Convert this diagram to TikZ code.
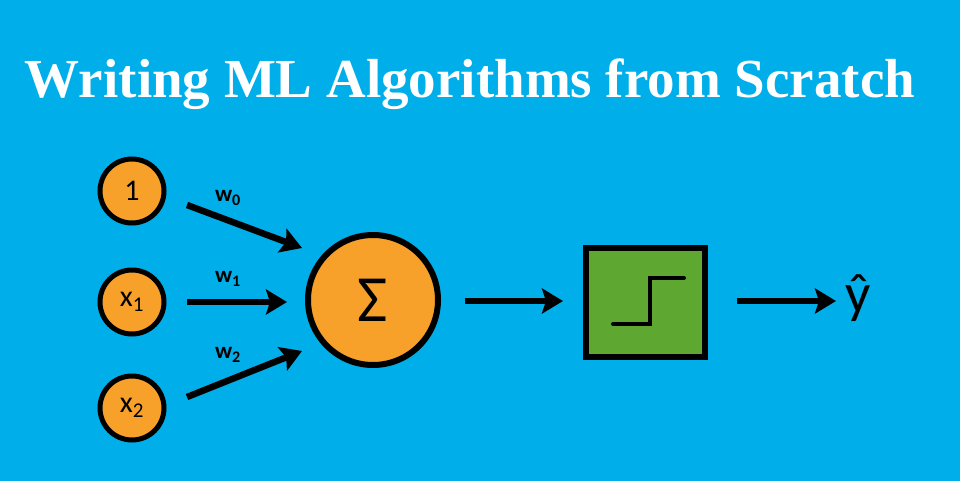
\documentclass[tikz,border=0pt]{standalone}
\usepackage{fontspec}
\setmainfont{Liberation Serif}
\newfontfamily\calib{Carlito}
\usetikzlibrary{arrows.meta}
\definecolor{bgblue}{RGB}{0,174,234}
\definecolor{nodeorange}{RGB}{247,161,43}
\definecolor{boxgreen}{RGB}{94,168,50}
\begin{document}
\begin{tikzpicture}[x=1pt,y=-1pt,
  inp/.style={circle,draw=black,line width=5pt,fill=nodeorange,minimum size=64pt,inner sep=0pt,font=\calib\fontsize{30}{30}\selectfont},
  sumnode/.style={circle,draw=black,line width=6pt,fill=nodeorange,minimum size=130pt,inner sep=0pt,font=\calib\fontsize{66}{66}\selectfont},
  actbox/.style={draw=black,line width=6pt,fill=boxgreen,minimum width=119pt,minimum height=109pt,inner sep=0pt},
  conn/.style={line width=6.5pt,-{Stealth[length=21pt,width=25pt,inset=4pt]}},
  wlab/.style={font=\calib\bfseries\fontsize{23}{23}\selectfont,inner sep=0pt}]
\fill[bgblue] (0,0) rectangle (960,481);
\useasboundingbox (0,0) rectangle (960,481);
\node[text=white,font=\bfseries\fontsize{55}{55}\selectfont,inner sep=0pt,anchor=base] (title) at (470,98) {Writing ML Algorithms from Scratch};
\node[inp] (n1) at (132,191) {1};
\node[inp] (n2) at (132,302) {x\textsubscript{1}};
\node[inp] (n3) at (132,408) {x\textsubscript{2}};
\node[sumnode] (sum) at (373,300) {Σ};
\node[actbox] (act) at (645.5,302.5) {};
\coordinate (s1) at (613,324);
\coordinate (s2) at (650,324);
\coordinate (s3) at (650,278);
\coordinate (s4) at (684,278);
\draw[line width=4pt,line cap=round] (s1) -- (s2) -- (s3) -- (s4);
\node[font=\calib\fontsize{56}{56}\selectfont,inner sep=0pt] (yhat) at (858,298) {\^{y}};
\coordinate (a1s) at (187,205);
\coordinate (a1e) at (302,248);
\coordinate (a2s) at (187,302);
\coordinate (a2e) at (287,302);
\coordinate (a3s) at (187,397);
\coordinate (a3e) at (302,351);
\coordinate (b1s) at (465,301);
\coordinate (b1e) at (563,301);
\coordinate (o1s) at (737,301);
\coordinate (o1e) at (836,301);
\draw[conn] (a1s) -- (a1e);
\draw[conn] (a2s) -- (a2e);
\draw[conn] (a3s) -- (a3e);
\draw[conn] (b1s) -- (b1e);
\draw[conn] (o1s) -- (o1e);
\node[wlab] (w0) at (228,198) {w\textsubscript{0}};
\node[wlab] (w1) at (228,279) {w\textsubscript{1}};
\node[wlab] (w2) at (228,355) {w\textsubscript{2}};
\end{tikzpicture}
\end{document}
